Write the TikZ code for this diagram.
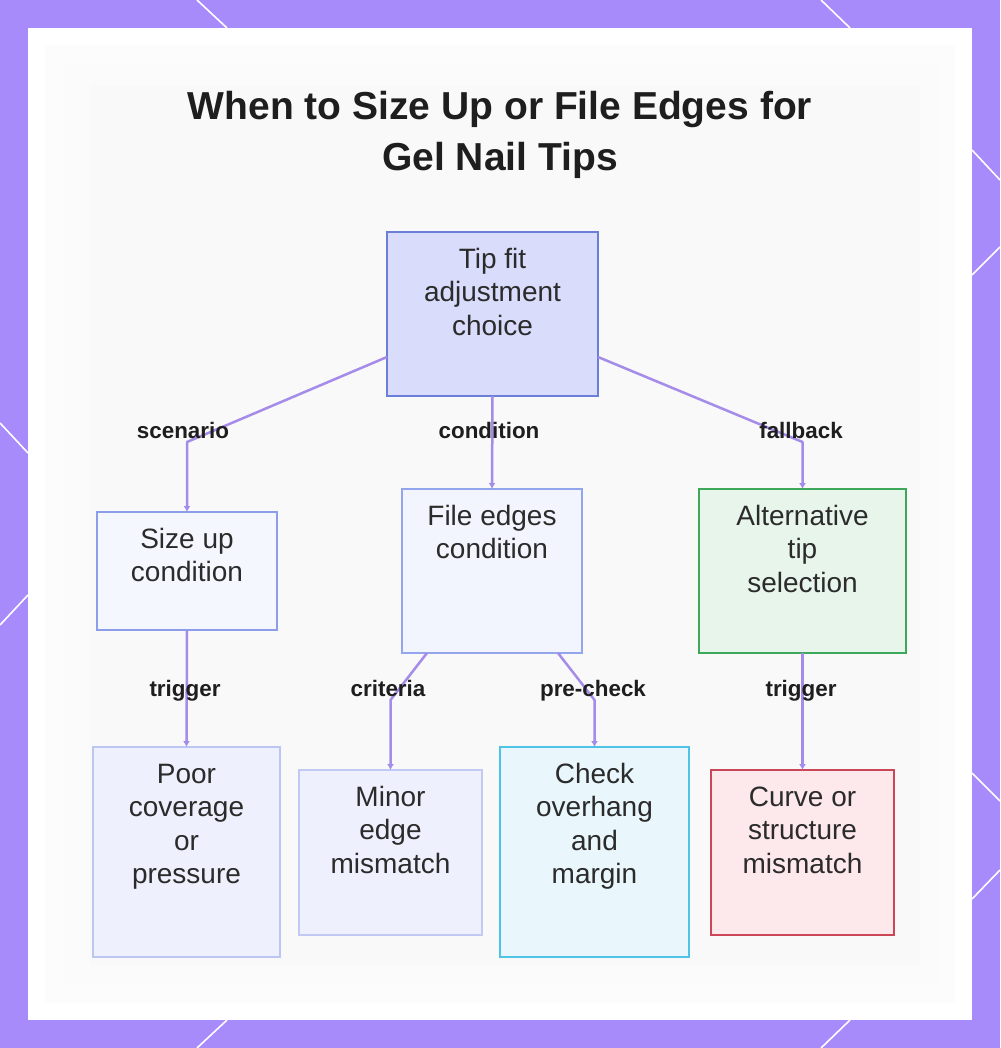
\documentclass[tikz,border=0pt]{standalone}
\usepackage{fontspec}
\setmainfont{Liberation Sans}
\usetikzlibrary{arrows.meta}
\definecolor{bgpurple}{HTML}{A78BFA}
\definecolor{edgec}{HTML}{A58BEA}
\definecolor{txt}{HTML}{2B2B2B}
\definecolor{labelc}{HTML}{1E1E1E}
\definecolor{rootf}{HTML}{D9DCFB}\definecolor{rootd}{HTML}{6C7FD8}
\definecolor{sizef}{HTML}{F5F7FF}\definecolor{sized}{HTML}{8C9EEA}
\definecolor{filef}{HTML}{F3F5FE}\definecolor{filed}{HTML}{93A5EC}
\definecolor{altf}{HTML}{E8F5EB}\definecolor{altd}{HTML}{3DA85A}
\definecolor{poorf}{HTML}{EEF1FD}\definecolor{poord}{HTML}{BCC6F3}
\definecolor{minorf}{HTML}{EFF0FD}\definecolor{minord}{HTML}{C2C9F2}
\definecolor{checkf}{HTML}{E9F6FC}\definecolor{checkd}{HTML}{4EC3E6}
\definecolor{curvef}{HTML}{FDE8EB}\definecolor{curved}{HTML}{CB4656}
\newcommand{\boxtxt}[3]{\parbox[c][#2][t]{#1}{\centering\fontsize{14}{16.75}\selectfont\color{txt}\rule{0pt}{18pt}#3}}
\begin{document}
\begin{tikzpicture}[x=0.5pt,y=-0.5pt,
  box/.style={rectangle, line width=1pt, inner sep=0pt, outer sep=0pt},
  edge/.style={draw=edgec, line width=1.25pt, line join=round, -{Latex[length=3pt,width=3.5pt]}},
  elabel/.style={font=\fontsize{11.2}{13}\selectfont\bfseries, text=labelc, anchor=base, inner sep=0pt},
  ttl/.style={font=\fontsize{19.5}{24}\selectfont\bfseries, text=labelc, anchor=base, inner sep=0pt},
  deco/.style={draw=white, line width=0.8pt}
]
\useasboundingbox (0,0) rectangle (1000,1048);
% background frame
\fill[bgpurple] (0,0) rectangle (1000,1048);
\begin{scope}
\clip (0,0) rectangle (1000,1048);
\draw[deco] (197,0) -- (227,28);
\draw[deco] (821,0) -- (850,28);
\draw[deco] (227,1020) -- (197,1048);
\draw[deco] (850,1020) -- (821,1048);
\draw[deco] (0,423) -- (28,453);
\draw[deco] (28,595) -- (0,625);
\draw[deco] (972,150) -- (1000,180);
\draw[deco] (972,275) -- (1000,247);
\draw[deco] (972,773) -- (1000,801);
\draw[deco] (972,899) -- (1000,870);
\end{scope}
% soft inner panel
\fill[white] (28,28) rectangle (972,1020);
\fill[black!1] (45,45) rectangle (955,1003);
\fill[black!1.6] (65,65) rectangle (940,985);
\fill[black!2.2] (90,85) rectangle (920,965);

% title
\node[ttl] (title1) at (500,120) {When to Size Up or File Edges for};
\node[ttl] (title2) at (500,171) {Gel Nail Tips};

% boxes
\node[box, fill=rootf, draw=rootd, line width=1.2pt] (root) at (492.5,314) {\boxtxt{105.5pt}{82pt}{Tip fit\\adjustment\\choice}};
\node[box, fill=sizef, draw=sized] (size) at (187,571) {\boxtxt{90pt}{59pt}{Size up\\condition}};
\node[box, fill=filef, draw=filed] (file) at (492,571) {\boxtxt{90pt}{82pt}{File edges\\condition}};
\node[box, fill=altf, draw=altd] (alt) at (802.5,571) {\boxtxt{103.5pt}{82pt}{Alternative\\tip\\selection}};
\node[box, fill=poorf, draw=poord] (poor) at (186.5,852) {\boxtxt{93.5pt}{105pt}{Poor\\coverage\\or\\pressure}};
\node[box, fill=minorf, draw=minord] (minor) at (390.5,852.5) {\boxtxt{91.5pt}{82.5pt}{Minor\\edge\\mismatch}};
\node[box, fill=checkf, draw=checkd] (check) at (594.5,852) {\boxtxt{94.5pt}{105pt}{Check\\overhang\\and\\margin}};
\node[box, fill=curvef, draw=curved] (curve) at (802.5,852.5) {\boxtxt{91.5pt}{82.5pt}{Curve or\\structure\\mismatch}};

% bend points
\coordinate (b1) at (187,442);
\coordinate (b3) at (802.5,442);
\coordinate (b4) at (390.5,700);
\coordinate (b5) at (594.5,700);

% connectors
\draw[edge] ([yshift=19.5pt]root.south west) -- (b1) -- (size.north);
\draw[edge] (root.south) -- (file.north);
\draw[edge] ([yshift=19.5pt]root.south east) -- (b3) -- (alt.north);
\draw[edge] (size.south) -- (poor.north);
\draw[edge] ([xshift=12.5pt]file.south west) -- (b4) -- (minor.north);
\draw[edge] ([xshift=-12pt]file.south east) -- (b5) -- (check.north);
\draw[edge] (alt.south) -- (curve.north);

% connector labels
\node[elabel] (l1) at (183,438) {scenario};
\node[elabel] (l2) at (489,438) {condition};
\node[elabel] (l3) at (801,438) {fallback};
\node[elabel] (l4) at (185,696) {trigger};
\node[elabel] (l5) at (388,696) {criteria};
\node[elabel] (l6) at (593,696) {pre-check};
\node[elabel] (l7) at (801,696) {trigger};
\end{tikzpicture}
\end{document}
